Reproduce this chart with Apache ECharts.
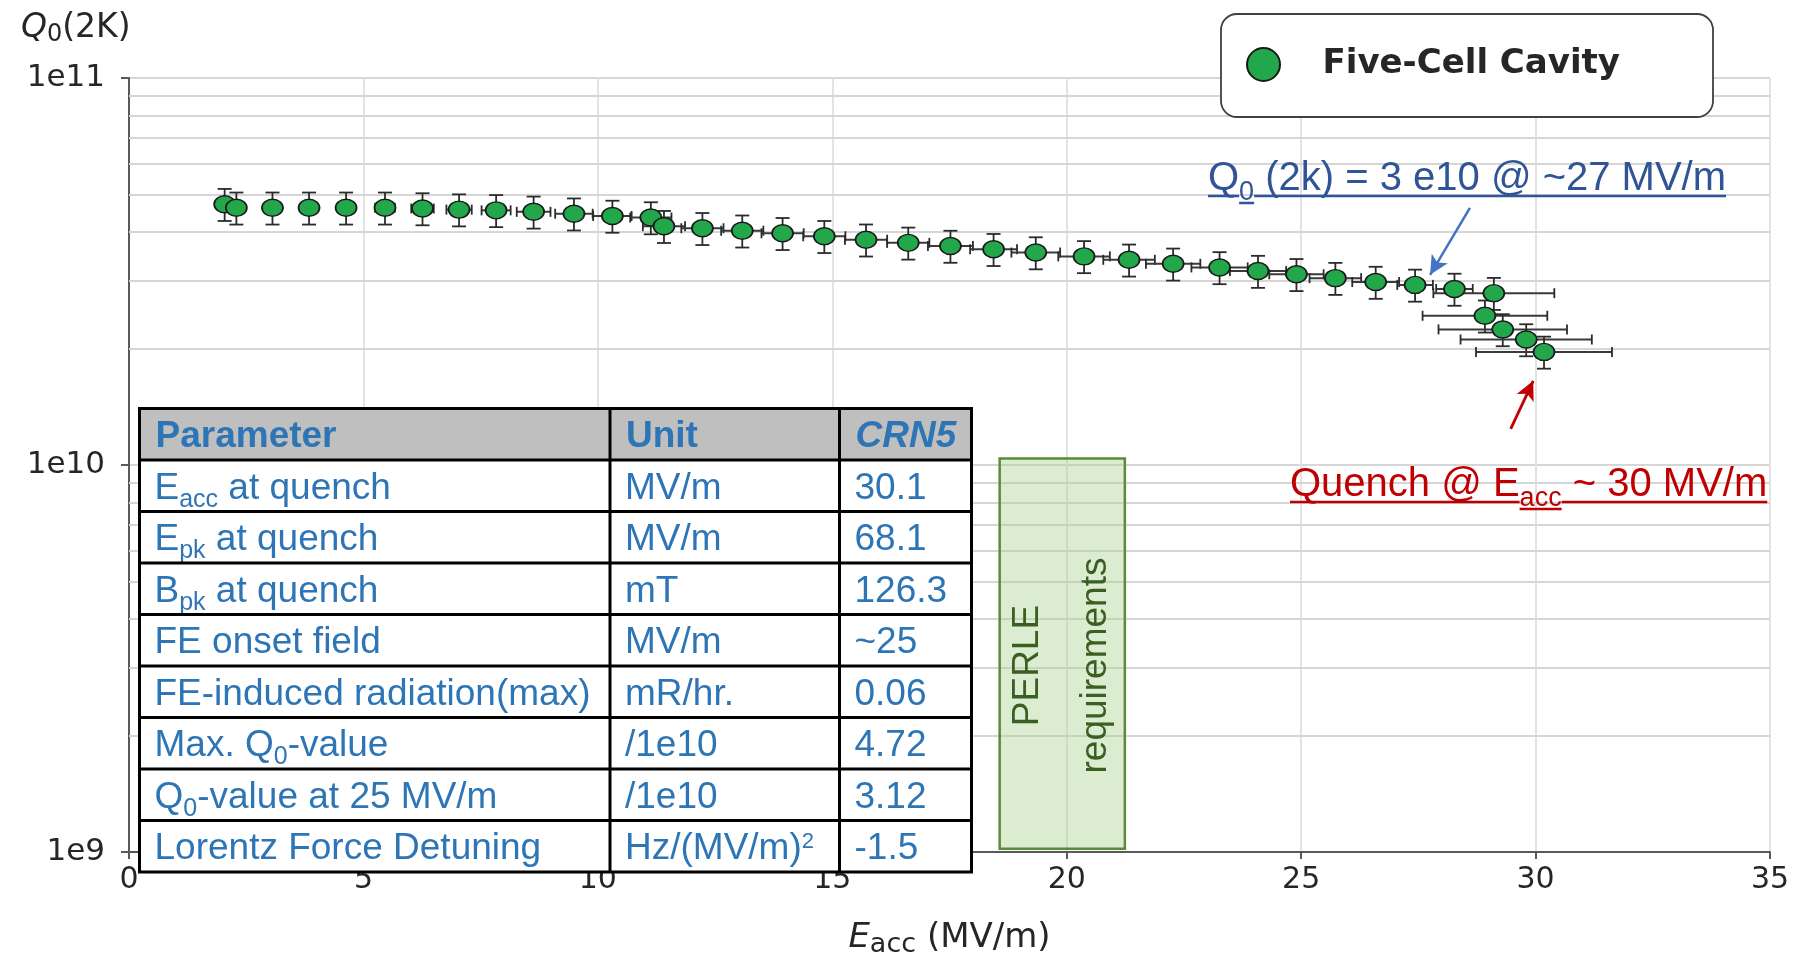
<!DOCTYPE html>
<html>
<head>
<meta charset="utf-8">
<title>Five-Cell Cavity Q0 vs Eacc</title>
<script src="https://cdn.jsdelivr.net/npm/echarts@6.0.0/dist/echarts.min.js"></script>
<style>
  html, body { margin: 0; padding: 0; background: #fff; }
  #chart { width: 1794px; height: 961px; }
</style>
</head>
<body>
<div id="chart"></div>
<script>
// Eacc of each measured point (MV/m)
const eaccValues = [2.04, 2.29, 3.06, 3.84, 4.63, 5.46, 6.26, 7.04, 7.83, 8.63, 9.49,
    10.31, 11.13, 11.41, 12.23, 13.08, 13.94, 14.83, 15.72, 16.62, 17.52, 18.44, 19.34, 20.37, 21.33, 22.27,
    23.26, 24.08, 24.90, 25.73, 26.59, 27.43, 28.27, 29.11, 28.92, 29.30, 29.80, 30.18];
// Q0 at 2K, in units of 1e10
const q0Values = [4.72, 4.62, 4.62, 4.62, 4.62, 4.62, 4.60, 4.57, 4.55, 4.51, 4.46,
    4.40, 4.36, 4.14, 4.09, 4.03, 3.97, 3.90, 3.82, 3.75, 3.68, 3.61, 3.54, 3.46, 3.39, 3.31,
    3.24, 3.17, 3.11, 3.04, 2.97, 2.92, 2.85, 2.78, 2.43, 2.24, 2.11, 1.96];
// horizontal error bars (MV/m)
const eaccErrors = [0.08, 0.10, 0.12, 0.15, 0.18, 0.21, 0.24, 0.27, 0.31, 0.36, 0.40,
    0.41, 0.44, 0.45, 0.45, 0.45, 0.45, 0.45, 0.45, 0.45, 0.48, 0.50, 0.52, 0.55, 0.55, 0.58,
    0.60, 0.60, 0.58, 0.55, 0.50, 0.38, 0.39, 1.29, 1.33, 1.37, 1.40, 1.45];
// vertical error bars, fraction of Q0
const q0ErrorFraction = 0.095;

// minor log grid lines
const minorGridQ = [2e9, 3e9, 4e9, 5e9, 6e9, 7e9, 8e9, 9e9, 2e10, 3e10, 4e10, 5e10, 6e10, 7e10, 8e10, 9e10];

// PERLE requirement band (Eacc range, Q0 range)
const perleEacc = [18.57, 21.24];
const perleQ0 = [1.02e9, 1.04e10];

// annotation arrows [from, to] in data units
const q0Arrow = [[28.60, 4.62e10], [27.75, 3.10e10]];
const quenchArrow = [[29.47, 1.24e10], [29.95, 1.65e10]];

// table (_{..} = subscript, ^{..} = superscript)
const tableHeader = ['Parameter', 'Unit', 'CRN5'];
const tableParams = ['E_{acc} at quench', 'E_{pk} at quench', 'B_{pk} at quench', 'FE onset field',
    'FE-induced radiation(max)', 'Max. Q_{0}-value', 'Q_{0}-value at 25 MV/m', 'Lorentz Force Detuning'];
const tableUnits = ['MV/m', 'MV/m', 'mT', 'MV/m', 'mR/hr.', '/1e10', '/1e10', 'Hz/(MV/m)^{2}'];
const tableValues = ['30.1', '68.1', '126.3', '~25', '0.06', '4.72', '3.12', '-1.5'];

const ellipse = 'path://M0,10 A10,10 0 1,1 20,10 A10,10 0 1,1 0,10 Z';
const green = '#22A84A';
const axisFont = 'DejaVu Sans';
const tableFont = 'Liberation Sans';
const tableBlue = '#2E75B6';
const inkColor = '#262626';

// text measuring, so that sub/superscripts and underlines line up
const measureCtx = document.createElement('canvas').getContext('2d');
function fontOf(size, family, weight, style) {
    return (style || 'normal') + ' ' + (weight || 'normal') + ' ' + size + 'px ' + family;
}
function widthOf(text, font) {
    measureCtx.font = font;
    measureCtx.textBaseline = 'alphabetic';
    return measureCtx.measureText(text).width;
}
function middleToBaseline(font) {
    measureCtx.font = font;
    measureCtx.textBaseline = 'middle';
    const d = measureCtx.measureText('H').actualBoundingBoxDescent;
    measureCtx.textBaseline = 'alphabetic';
    return d;
}
function parseMarkup(s) {
    return s.split(/(_\{[^}]*\}|\^\{[^}]*\})/).filter(p => p.length).map(p => {
        if (p[0] === '_') return { text: p.slice(2, -1), kind: 'sub' };
        if (p[0] === '^') return { text: p.slice(2, -1), kind: 'sup' };
        return { text: p, kind: 'normal' };
    });
}
// writes pieces along a baseline, returns graphic elements
function textRun(pieces, x, baseline, o) {
    const out = [];
    let cx = x;
    pieces.forEach(p => {
        const size = p.kind === 'sub' ? o.subSize : p.kind === 'sup' ? o.supSize : o.size;
        const shift = p.kind === 'sub' ? o.subShift : p.kind === 'sup' ? -o.supShift : 0;
        const font = fontOf(size, o.family, o.weight, o.style);
        const w = widthOf(p.text, font);
        const base = baseline + shift;
        out.push({
            type: 'text', x: cx, y: base - middleToBaseline(font), z: 100,
            style: {
                text: p.text, fontSize: size, fontFamily: o.family, fontWeight: o.weight || 'normal',
                fontStyle: o.style || 'normal', fill: o.color, align: 'left', verticalAlign: 'middle'
            }
        });
        if (o.underline) {
            const uy = base + (p.kind === 'sub' ? 3 : 6);
            out.push({
                type: 'line', z: 100, shape: { x1: cx, y1: uy, x2: cx + w, y2: uy },
                style: { stroke: o.color, lineWidth: 2.5 }
            });
        }
        cx += w;
    });
    return out;
}

// table layout
const colX = [139.5, 610, 839.5, 971.5];
const rowTop = 408.5;
const rowH = 51.5;
function buildTable() {
    const els = [];
    const nRows = tableParams.length + 1;
    const bottom = rowTop + rowH * nRows;
    els.push({ type: 'rect', z: 99, shape: { x: colX[0], y: rowTop, width: colX[3] - colX[0], height: rowH },
        style: { fill: '#BFBFBF' } });
    els.push({ type: 'rect', z: 99, shape: { x: colX[0], y: rowTop + rowH, width: colX[3] - colX[0], height: bottom - rowTop - rowH },
        style: { fill: '#fff' } });
    for (let i = 0; i <= nRows; i++) {
        const y = rowTop + rowH * i;
        els.push({ type: 'line', z: 101, shape: { x1: colX[0] - 1.5, y1: y, x2: colX[3] + 1.5, y2: y },
            style: { stroke: '#000', lineWidth: 3 } });
    }
    colX.forEach(x => {
        els.push({ type: 'line', z: 101, shape: { x1: x, y1: rowTop, x2: x, y2: bottom },
            style: { stroke: '#000', lineWidth: 3 } });
    });
    const base = { family: tableFont, size: 37, subSize: 25, supSize: 22, subShift: 8, supShift: 11, color: tableBlue };
    const capHalf = 13;
    tableHeader.forEach((h, c) => {
        const o = Object.assign({}, base, { weight: 'bold', style: c === 2 ? 'italic' : 'normal' });
        els.push(...textRun(parseMarkup(h), colX[c] + 16, rowTop + rowH / 2 + capHalf, o));
    });
    for (let r = 0; r < tableParams.length; r++) {
        const by = rowTop + rowH * (r + 1) + rowH / 2 + capHalf;
        [tableParams[r], tableUnits[r], tableValues[r]].forEach((t, c) => {
            els.push(...textRun(parseMarkup(t), colX[c] + 15, by, base));
        });
    }
    return els;
}

function buildNotes() {
    const els = [];
    els.push(...textRun(parseMarkup('Q_{0} (2k) = 3 e10 @ ~27 MV/m'), 1208, 190,
        { family: tableFont, size: 40, subSize: 27, subShift: 10, color: '#2F5597', underline: true }));
    els.push(...textRun(parseMarkup('Quench @ E_{acc} ~ 30 MV/m'), 1290, 496,
        { family: tableFont, size: 40, subSize: 27, subShift: 10, color: '#C00000', underline: true }));
    return els;
}

const chart = echarts.init(document.getElementById('chart'));

const option = {
    animation: false,
    backgroundColor: '#fff',
    title: {
        text: '{q|Q}{s|0}{n|(2K)}',
        left: 16,
        top: 4,
        textStyle: {
            fontWeight: 'normal',
            rich: {
                q: { fontFamily: axisFont, fontSize: 33, fontStyle: 'italic', fontWeight: 'normal', color: inkColor, lineHeight: 38 },
                s: { fontFamily: axisFont, fontSize: 24, fontWeight: 'normal', color: inkColor, lineHeight: 24, verticalAlign: 'bottom' },
                n: { fontFamily: axisFont, fontSize: 33, fontWeight: 'normal', color: inkColor, lineHeight: 38 }
            }
        }
    },
    legend: {
        left: 1221,
        top: 14,
        data: [{ name: 'Five-Cell Cavity', icon: ellipse }],
        itemWidth: 48,
        itemHeight: 33,
        backgroundColor: '#fff',
        borderColor: '#404040',
        borderWidth: 1.8,
        borderRadius: 16,
        padding: [33, 93, 35, 25],
        textStyle: {
            fontFamily: axisFont,
            fontWeight: 'bold',
            fontSize: 34,
            color: inkColor,
            padding: [0, 0, 0, 30]
        }
    },
    grid: {
        left: 129,
        right: 24,
        top: 78,
        bottom: 109,
        outerBoundsMode: 'none'
    },
    xAxis: {
        type: 'value',
        min: 0,
        max: 35,
        interval: 5,
        name: '{i|E}{s|acc} (MV/m)',
        nameLocation: 'middle',
        nameGap: 66,
        nameTextStyle: {
            fontFamily: axisFont,
            fontSize: 34,
            color: inkColor,
            lineHeight: 40,
            rich: {
                i: { fontFamily: axisFont, fontSize: 34, fontStyle: 'italic', color: inkColor, lineHeight: 40 },
                s: { fontFamily: axisFont, fontSize: 27, color: inkColor, lineHeight: 24, verticalAlign: 'bottom' }
            }
        },
        axisLine: { lineStyle: { color: '#595959', width: 2 } },
        axisTick: { show: true, length: 7, lineStyle: { color: '#595959', width: 2 } },
        axisLabel: { fontFamily: axisFont, fontSize: 30, color: inkColor, margin: 13 },
        splitLine: { show: true, lineStyle: { color: '#E3E3E3', width: 2 } }
    },
    yAxis: {
        type: 'log',
        logBase: 10,
        min: 1e9,
        max: 1e11,
        axisLine: { show: true, lineStyle: { color: '#595959', width: 2 } },
        axisTick: { show: true, length: 8, lineStyle: { color: '#595959', width: 2 } },
        axisLabel: {
            fontFamily: axisFont,
            fontSize: 31,
            color: inkColor,
            margin: 24,
            formatter: v => '1e' + Math.round(Math.log10(v))
        },
        splitLine: { show: true, lineStyle: { color: '#D6D6D6', width: 2 } }
    },
    series: [
        {
            // minor grid and PERLE band
            name: 'notes',
            type: 'scatter',
            data: [],
            silent: true,
            markLine: {
                silent: true,
                symbol: 'none',
                z: 1,
                label: { show: false },
                lineStyle: { color: '#D6D6D6', width: 2, type: 'solid' },
                data: minorGridQ.map(q => ({ yAxis: q }))
            },
            markArea: {
                silent: true,
                z: 2,
                itemStyle: { color: 'rgba(169,209,142,0.42)', borderColor: '#5A8A3A', borderWidth: 2.5 },
                label: {
                    show: true,
                    position: 'inside',
                    rotate: 90,
                    offset: [-12, 0],
                    formatter: 'PERLE\nrequirements',
                    fontFamily: tableFont,
                    fontSize: 37,
                    lineHeight: 68,
                    color: '#3B5E22'
                },
                data: [[{ coord: [perleEacc[0], perleQ0[0]] }, { coord: [perleEacc[1], perleQ0[1]] }]]
            }
        },
        {
            name: 'arrows',
            type: 'scatter',
            data: [],
            silent: true,
            markLine: {
                silent: true,
                z: 10,
                symbol: ['none', 'arrow'],
                symbolSize: [14, 19],
                label: { show: false },
                data: [
                    [{ coord: q0Arrow[0], lineStyle: { color: '#4472C4', width: 2.5, type: 'solid' } },
                     { coord: q0Arrow[1] }],
                    [{ coord: quenchArrow[0], lineStyle: { color: '#C00000', width: 2.8, type: 'solid' } },
                     { coord: quenchArrow[1] }]
                ]
            }
        },
        {
            name: 'error bars',
            type: 'custom',
            z: 3,
            silent: true,
            data: eaccValues.map((x, i) => [x, q0Values[i] * 1e10, eaccErrors[i]]),
            renderItem: function (params, api) {
                const x = api.value(0), y = api.value(1), ex = api.value(2);
                const lo = api.coord([x, y * (1 - q0ErrorFraction)]);
                const hi = api.coord([x, y * (1 + q0ErrorFraction)]);
                const l = api.coord([x - ex, y]);
                const r = api.coord([x + ex, y]);
                const style = { stroke: '#2b2b2b', lineWidth: 1.8, fill: null };
                const hStyle = { stroke: '#3a3a3a', lineWidth: 2, fill: null };
                const seg = (x1, y1, x2, y2, s) => ({ type: 'line', shape: { x1, y1, x2, y2 }, style: s || style });
                return {
                    type: 'group',
                    children: [
                        seg(lo[0], lo[1], hi[0], hi[1]),
                        seg(lo[0] - 7, lo[1], lo[0] + 7, lo[1]),
                        seg(hi[0] - 7, hi[1], hi[0] + 7, hi[1]),
                        seg(l[0], l[1], r[0], r[1], hStyle),
                        seg(l[0], l[1] - 5, l[0], l[1] + 5),
                        seg(r[0], r[1] - 5, r[0], r[1] + 5)
                    ]
                };
            }
        },
        {
            name: 'Five-Cell Cavity',
            type: 'scatter',
            z: 4,
            symbol: ellipse,
            symbolSize: [21, 17],
            itemStyle: { color: green, borderColor: '#1a1a1a', borderWidth: 1.6, opacity: 1 },
            data: eaccValues.map((x, i) => [x, q0Values[i] * 1e10])
        }
    ],
    graphic: { elements: buildTable().concat(buildNotes()) }
};

chart.setOption(option);
</script>
</body>
</html>
